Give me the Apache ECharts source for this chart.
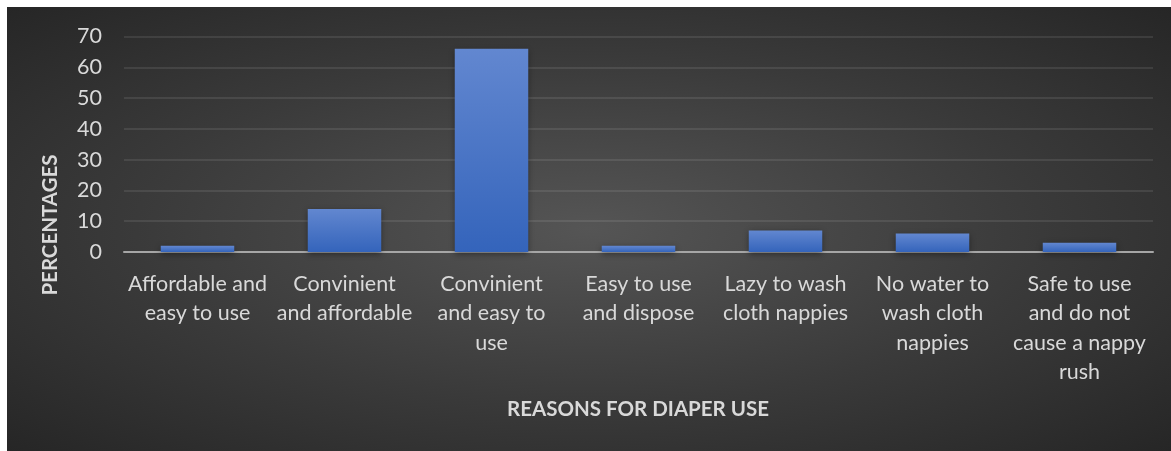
<!DOCTYPE html>
<html>
<head>
<meta charset="utf-8">
<script src="https://cdn.jsdelivr.net/npm/echarts@6/dist/echarts.min.js"></script>
<style>
  html, body { margin: 0; padding: 0; background: #fff; }
  #chart {
    position: absolute; left: 7px; top: 7px; width: 1164px; height: 444px;
    background: radial-gradient(ellipse farthest-corner at 50% 50%, #555555 0%, #3a3a3a 55%, #262626 100%);
  }
</style>
</head>
<body>
<div id="chart"></div>
<script>
// data
var categories = [
  'Affordable and\neasy to use',
  'Convinient\nand affordable',
  'Convinient\nand easy to\nuse',
  'Easy to use\nand dispose',
  'Lazy to wash\ncloth nappies',
  'No water to\nwash cloth\nnappies',
  'Safe to use\nand do not\ncause a nappy\nrush'
]
var percentages = [2, 14, 66, 2, 7, 6, 3]
var yTicks = [0, 10, 20, 30, 40, 50, 60, 70]

var chart = echarts.init(document.getElementById('chart'))
var font = 'Lato, "Open Sans", sans-serif'
chart.setOption({
  backgroundColor: 'transparent',
  animation: false,
  grid: { left: 117, right: 18, top: 29.5, bottom: 199 },
  xAxis: {
    type: 'category',
    data: categories,
    axisTick: { show: false },
    axisLine: { lineStyle: { color: '#a6a6a6', width: 2 } },
    axisLabel: {
      color: '#d9d9d9', fontSize: 21.5, fontFamily: font,
      lineHeight: 29.5, margin: 17, interval: 0, align: 'center'
    }
  },
  yAxis: {
    type: 'value',
    min: yTicks[0],
    max: yTicks[yTicks.length - 1],
    interval: 10,
    axisLine: { show: false },
    axisTick: { show: false },
    splitLine: { lineStyle: { color: 'rgba(255,255,255,0.12)', width: 1.5 } },
    axisLabel: { color: '#d9d9d9', fontSize: 21.5, fontFamily: font, margin: 22 }
  },
  graphic: [
    {
      type: 'text', x: 43, y: 218, rotation: Math.PI / 2,
      style: {
        text: 'PERCENTAGES', fill: '#d9d9d9', fontSize: 20.5, fontWeight: 'bold',
        fontFamily: font, textAlign: 'center', textVerticalAlign: 'middle'
      }
    },
    {
      type: 'text', x: 631, y: 402,
      style: {
        text: 'REASONS FOR DIAPER USE', fill: '#d9d9d9', fontSize: 20.5, fontWeight: 'bold',
        fontFamily: font, textAlign: 'center', textVerticalAlign: 'middle'
      }
    }
  ],
  series: [
    {
      type: 'bar',
      data: percentages,
      barWidth: '50%',
      itemStyle: {
        color: new echarts.graphic.LinearGradient(0, 0, 0, 1, [
          { offset: 0, color: '#6287d0' },
          { offset: 1, color: '#3464bb' }
        ]),
        shadowColor: 'rgba(0,0,0,0.4)',
        shadowBlur: 6,
        shadowOffsetY: 2
      }
    }
  ]
})
</script>
</body>
</html>
